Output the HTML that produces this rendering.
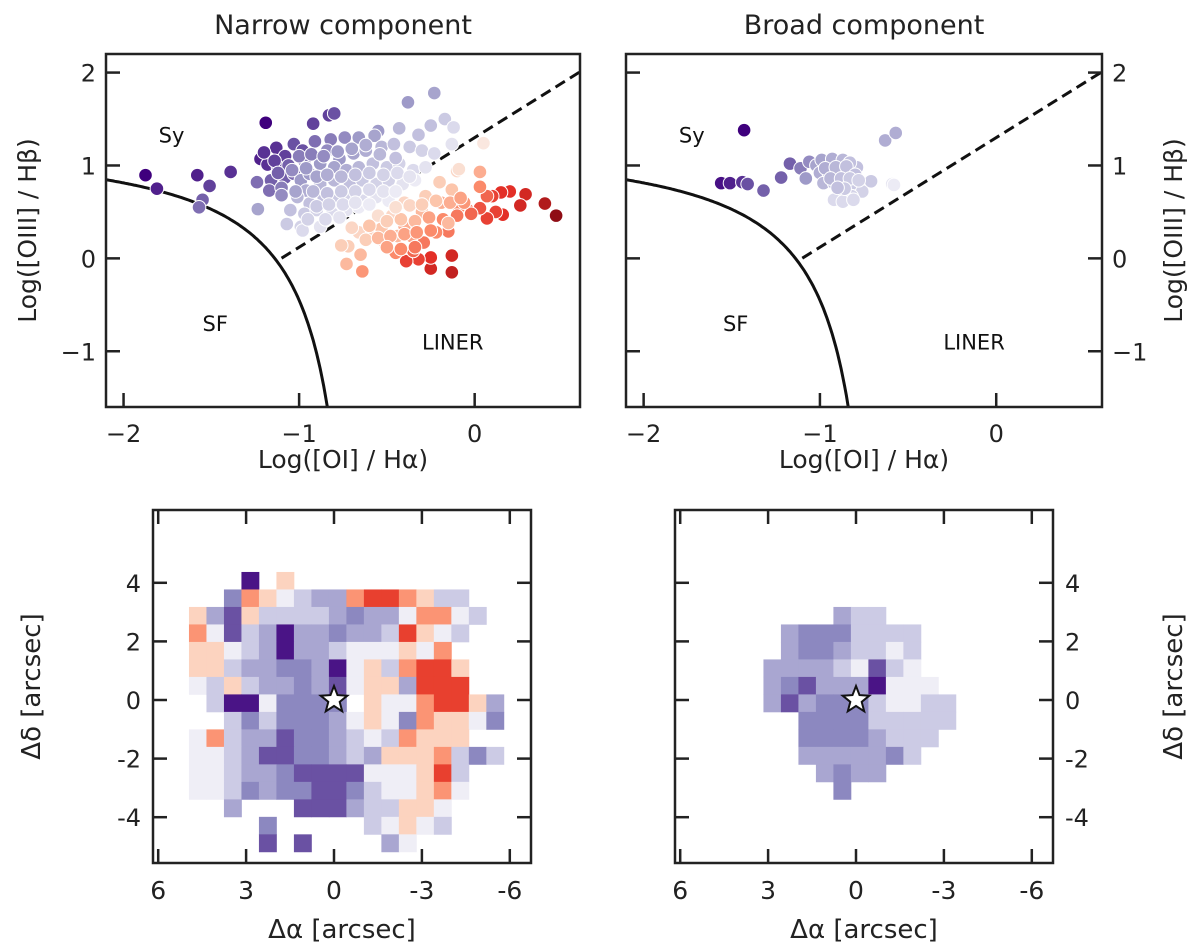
<!DOCTYPE html>
<html><head><meta charset="utf-8">
<style>
html,body{margin:0;padding:0;background:#fff;}
svg{display:block;font-family:"DejaVu Sans","Liberation Sans",sans-serif;}
</style></head>
<body>
<svg id="fig" width="1200" height="952" viewBox="0 0 1200 952"></svg>
<script>
// ---- Narrow component scatter data
const narrowX=[-1.875,-1.81,-1.58,-1.51,-1.55,-1.57,-1.39,-1.19,-1.235,-0.92,-0.83,-0.8,-0.38,-0.23,-0.17,-0.12,-0.43,-0.25,-0.32,-0.55,
-1.22,-1.18,-1.13,-1.08,-1.03,-0.98,-1.12,-1.08,-1.16,-1.24,-1.17,-1.1,-1.03,-0.97,-0.91,-0.82,-0.74,-0.66,-0.57,-0.84,-0.77,-0.69,-0.62,-0.53,-0.46,-0.37,-0.3,-0.23,-0.13,
-0.99,-0.94,-0.88,-0.8,-0.73,-0.66,-0.58,-0.5,-0.43,-0.35,-0.28,-0.96,-0.88,-0.8,-0.71,-0.64,-0.56,-0.49,-0.41,-0.34,-1.01,-0.94,-0.86,-0.79,-0.71,-0.64,-0.56,-0.49,-1.05,-0.97,-0.9,-0.81,-0.73,-0.66,-1.07,-0.99,-0.88,-0.98,
-1.2,-1.14,-1.06,-1.0,-0.93,-0.86,-0.78,-0.7,-0.62,-0.54,-0.45,-1.12,-1.04,-0.96,-0.9,-0.84,-0.76,-0.68,-0.6,-0.52,-0.44,-0.37,-1.1,-1.02,-0.92,-0.84,-0.76,-0.68,-0.6,-0.52,-0.45,-0.9,-0.83,-0.75,-0.68,-0.6,-0.95,-0.85,-0.77,
0.464,0.40,0.29,0.26,0.2,0.15,0.1,0.16,0.12,0.07,0.03,0.07,0.03,0.03,-0.04,-0.09,-0.13,-0.13,-0.25,-0.25,-0.32,-0.39,-0.35,-0.29,-0.15,-0.22,-0.45,-0.51,-0.64,-0.65,-0.73,-0.72,-0.76,-0.6,-0.53,-0.66,-0.4,-0.3,-0.19,-0.13,-0.1,-0.2,-0.28,-0.4,-0.47,-0.44,-0.55,-0.36,-0.09,0.05,
-0.5,-0.42,-0.34,-0.26,-0.18,-0.1,-0.02,-0.45,-0.37,-0.3,-0.22,-0.14,-0.06,-0.62,-0.55,-0.48,-0.4,-0.33,-0.25,-0.7,-0.6,-0.5,-0.42,-0.34,-0.15,-0.08];
const narrowY=[0.895,0.75,0.895,0.78,0.63,0.55,0.93,1.46,0.53,1.45,1.54,1.56,1.68,1.78,1.5,1.41,1.4,1.43,1.33,1.37,
1.07,1.01,1.19,1.10,1.23,1.16,0.98,0.87,0.84,0.82,0.73,0.76,0.91,1.05,1.26,1.28,1.3,1.3,1.32,1.16,1.07,1.13,1.16,1.2,1.23,1.2,1.16,1.13,1.23,
0.84,0.91,1.02,0.98,0.95,0.98,1.02,0.98,1.02,0.95,0.98,0.73,0.80,0.84,0.80,0.84,0.80,0.84,0.80,0.84,0.66,0.59,0.66,0.62,0.66,0.62,0.66,0.62,0.52,0.48,0.52,0.48,0.52,0.55,0.37,0.34,0.34,0.30,
1.14,1.05,1.0,1.1,1.12,1.1,1.15,1.18,1.22,1.12,1.08,0.92,0.95,0.97,0.88,0.9,0.88,0.9,0.92,0.9,0.92,0.88,0.68,0.72,0.72,0.7,0.72,0.72,0.74,0.72,0.72,0.56,0.58,0.58,0.6,0.58,0.42,0.42,0.44,
0.46,0.59,0.69,0.57,0.72,0.71,0.67,0.47,0.5,0.43,0.54,0.67,0.77,0.93,0.52,0.55,0.03,-0.15,-0.11,0.01,-0.01,-0.03,0.08,0.17,0.29,0.28,0.06,0.17,-0.14,0.04,-0.06,0.13,0.14,0.24,0.32,0.28,0.35,0.5,0.6,0.74,0.94,0.82,0.67,0.6,0.46,0.24,0.46,0.24,0.96,1.24,
0.4,0.42,0.4,0.44,0.42,0.46,0.48,0.55,0.57,0.58,0.62,0.6,0.6,0.2,0.22,0.24,0.26,0.28,0.3,0.33,0.35,0.12,0.1,0.12,0.38,0.65];
const narrowC=[-1,-0.9,-0.9,-0.8,-0.7,-0.65,-0.85,-1,-0.45,-0.8,-0.8,-0.75,-0.5,-0.45,-0.25,-0.15,-0.35,-0.3,-0.3,-0.5,
-0.9,-0.85,-0.85,-0.8,-0.75,-0.75,-0.8,-0.7,-0.7,-0.65,-0.65,-0.6,-0.65,-0.6,-0.65,-0.6,-0.55,-0.5,-0.45,-0.55,-0.5,-0.45,-0.4,-0.35,-0.3,-0.25,-0.2,-0.15,-0.1,
-0.5,-0.5,-0.5,-0.45,-0.4,-0.35,-0.3,-0.25,-0.2,-0.15,-0.1,-0.4,-0.35,-0.35,-0.3,-0.25,-0.2,-0.2,-0.1,-0.05,-0.35,-0.3,-0.3,-0.25,-0.2,-0.15,-0.1,-0.05,-0.3,-0.25,-0.2,-0.15,-0.1,-0.05,-0.25,-0.2,-0.1,-0.15,
-0.85,-0.8,-0.7,-0.6,-0.6,-0.55,-0.5,-0.45,-0.4,-0.35,-0.3,-0.7,-0.55,-0.5,-0.45,-0.4,-0.35,-0.3,-0.25,-0.2,-0.15,-0.1,-0.55,-0.45,-0.35,-0.3,-0.25,-0.2,-0.15,-0.1,-0.05,-0.25,-0.2,-0.15,-0.1,-0.05,-0.2,-0.15,-0.1,
1,0.9,0.8,0.8,0.75,0.75,0.7,0.75,0.7,0.7,0.65,0.6,0.5,0.35,0.55,0.5,0.8,0.85,0.8,0.75,0.7,0.7,0.6,0.55,0.55,0.5,0.5,0.45,0.45,0.3,0.3,0.2,0.2,0.2,0.25,0.15,0.35,0.3,0.35,0.25,0.15,0.2,0.2,0.15,0.15,0.3,0.1,0.4,0.1,0.05,
0.2,0.25,0.3,0.4,0.5,0.55,0.6,0.1,0.15,0.2,0.25,0.35,0.45,0.2,0.3,0.35,0.4,0.45,0.5,0.15,0.25,0.4,0.5,0.55,0.3,0.4];
// ---- Broad component scatter data
const broadX=[-1.43,-1.56,-1.51,-1.44,-1.41,-1.32,-1.22,-1.17,-1.11,-1.06,-1.08,-1.02,-0.96,-0.9,-0.85,-1.0,-0.95,-0.9,-0.84,-0.79,-0.98,-0.92,-0.86,-0.81,-0.76,-0.89,-0.82,-0.92,-0.87,-0.81,-0.71,-0.63,-0.57,-0.59,-0.58,
-0.99,-0.93,-0.87,-0.83,-0.97,-0.91,-0.85,-0.8,-0.94,-0.88,-0.83,-0.78,-0.86,-0.9];
const broadY=[1.38,0.81,0.81,0.82,0.80,0.73,0.87,1.02,0.97,1.04,0.86,1.0,1.04,1.02,0.97,0.92,0.92,0.92,0.95,0.98,0.81,0.81,0.78,0.81,0.72,0.70,0.67,0.63,0.61,0.63,0.83,1.27,1.35,0.80,0.79,
1.06,1.07,1.06,1.03,0.97,0.98,0.99,0.9,0.86,0.86,0.86,0.84,0.75,0.76];
const broadC=[-1,-0.95,-0.9,-0.85,-0.75,-0.7,-0.7,-0.7,-0.6,-0.55,-0.5,-0.45,-0.45,-0.4,-0.4,-0.4,-0.35,-0.35,-0.35,-0.3,-0.35,-0.3,-0.3,-0.25,-0.2,-0.25,-0.2,-0.15,-0.15,-0.15,-0.25,-0.4,-0.4,-0.1,-0.05,
-0.45,-0.4,-0.35,-0.3,-0.4,-0.35,-0.3,-0.3,-0.35,-0.3,-0.25,-0.2,-0.25,-0.3];
// ---- Axis ticks
const bptXTicks=[-2,-1,0];
const bptYTicks=[2,1,0,-1];
const mapXTicks=[6,3,0,-3,-6];
const mapYTicks=[4,2,0,-2,-4];
// ---- Maps (cell codes: . empty, D..l purples, w white, o..R reds)
const narrowMap=[
"...D.o............",
"..pOowlmmOrrOoll..",
"omPollllmpmmwOOwl.",
"OwPlmDmmpmmlrowl..",
"oowlmDmmlwwwowO...",
"oolmmppmDwolOrro..",
"wlolmmpmPwoomrrr..",
".lDDwpppp.owwOrrom",
"..lplpppmwowpOoowp",
"wOlmmPppmlwlOooo..",
"wwlmPPppmlmoooOlpl",
"wwlmmpPPPPwwworl..",
"wwlpmppPPplwwoOw..",
"..m...PPPmlloow...",
"....p.....lwowl...",
"....P.P....mw....."];
const broadMap=[
"..............",
"..............",
".......mll....",
"....mpppllll..",
"....mppmllwl..",
"...mmmmlwPlw..",
"...mpPmmmDwww.",
"...mPmppplwwll",
".....pppplllll",
".....ppppmlll.",
".....mmmmmpl..",
"......mpmm....",
".......p......"];

const NS='http://www.w3.org/2000/svg';
const svg=document.getElementById('fig');
function el(tag,attrs,parent){const e=document.createElementNS(NS,tag);for(const k in attrs)e.setAttribute(k,attrs[k]);(parent||svg).appendChild(e);return e;}
function txt(s,attrs,parent){const e=el('text',attrs,parent);e.textContent=s;return e;}

function lerp(a,b,t){return a+(b-a)*t;}
function hex(h){return [parseInt(h.slice(1,3),16),parseInt(h.slice(3,5),16),parseInt(h.slice(5,7),16)];}
const negStops=['#f4f3f9','#cbcae3','#9e9ac8','#6a51a3','#3f007d'];
const posStops=['#f9f0ec','#fcc5ab','#fb8a6a','#e32f27','#8f0d15'];
function cmap(c){const st=c<0?negStops:posStops;let v=Math.min(1,Math.abs(c))*4;let i=Math.min(3,Math.floor(v));let t=v-i;const a=hex(st[i]),b=hex(st[i+1]);return 'rgb('+a.map((x,k)=>Math.round(lerp(x,b[k],t))).join(',')+')';}
const codeColor={D:'#4a1486',P:'#6a51a3',p:'#8c88c0',m:'#a9a6d1',l:'#cccbe5',w:'#efeef6',o:'#fcd3bf',O:'#fb9474',r:'#e8402f',R:'#a50f15'};

// ---------- BPT panels ----------
function bpt(opt){
  const L=opt.L,R=opt.R,T=54,B=407;
  const sx=v=>L+(v+2.1)/2.7*(R-L);
  const sy=v=>B-(v+1.6)/3.8*(B-T);
  const g=el('g',{});  
  let d='';for(let x=-2.1;x<=-0.84;x+=0.01){const y=0.73/(x+0.59)+1.33;if(y<-1.6)break;d+=(d?'L':'M')+sx(x).toFixed(1)+','+sy(y).toFixed(1);}
  d+='L'+sx(-0.839).toFixed(1)+','+B;
  const cv=el('path',{d:d,fill:'none',stroke:'#111','stroke-width':3},g);
  
  const x0=-1.1,x1=0.6;
  const dl=el('line',{x1:sx(x0),y1:sy(1.18*x0+1.30),x2:sx(x1),y2:sy(1.18*x1+1.30),stroke:'#111','stroke-width':3,'stroke-dasharray':'11,6'},g);
  
  for(let i=0;i<opt.X.length;i++){
    const c=el('circle',{cx:sx(opt.X[i]),cy:sy(opt.Y[i]),r:6.8,fill:cmap(opt.C[i]),stroke:'#fff','stroke-width':1},g);
    
  }
  [['Sy',-1.8,1.25],['SF',-1.55,-0.78],['LINER',-0.3,-0.98]].forEach(a=>{const t=txt(a[0],{x:sx(a[1]),y:sy(a[2]),'font-size':21,fill:'#111'},g);});
  const f=el('rect',{x:L,y:T,width:R-L,height:B-T,fill:'none',stroke:'#222','stroke-width':2.5},g);
  
  bptXTicks.forEach(v=>{const X=sx(v);el('line',{x1:X,y1:B,x2:X,y2:B-14,stroke:'#222','stroke-width':2.5},g);
    const t=txt(v<0?'\u2212'+(-v):''+v,{x:X,y:B+35,'font-size':24,'text-anchor':'middle',fill:'#222'},g);});
  bptYTicks.forEach(v=>{const Y=sy(v);
    el('line',{x1:L,y1:Y,x2:L+14,y2:Y,stroke:'#222','stroke-width':2.5},g);
    if(opt.right) el('line',{x1:R,y1:Y,x2:R-14,y2:Y,stroke:'#222','stroke-width':2.5},g);
    const lx=opt.right?R+10:L-10;
    const t=txt(v<0?'\u2212'+(-v):''+v,{x:lx,y:Y+9,'font-size':24,'text-anchor':opt.right?'start':'end',fill:'#222'},g);});
  const ti=txt(opt.title,{x:(L+R)/2,y:34,'font-size':27,'text-anchor':'middle',fill:'#222'},g);
  const xl=txt('Log([OI] / H\u03b1)',{x:(L+R)/2,y:468,'font-size':25,'text-anchor':'middle',fill:'#222'},g);
  const yx=opt.right?1182:36;
  const yl=txt('Log([OIII] / H\u03b2)',{x:yx,y:(T+B)/2,'font-size':25,'text-anchor':'middle',fill:'#222',transform:'rotate(-90 '+yx+' '+(T+B)/2+')'},g);
}
bpt({L:106,R:580,X:narrowX,Y:narrowY,C:narrowC,title:'Narrow component',name:'narrow-bpt-panel',right:false});
bpt({L:626,R:1102,X:broadX,Y:broadY,C:broadC,title:'Broad component',name:'broad-bpt-panel',right:true});

// ---------- Maps ----------
function mapPanel(opt){
  const L=opt.L,R=L+378,T=510,B=863,PX=29.3;
  const cx=opt.L+181, cy=700;
  const sx=a=>cx-a*PX, sy=d=>cy-d*PX;
  const g=el('g',{});
  const a0=4.95,d0=4.37,cs=0.597;
  opt.M.forEach((row,r)=>{for(let c=0;c<row.length;c++){const k=row[c];if(k==='.')continue;
    const rc=el('rect',{x:sx(a0-c*cs),y:sy(d0-r*cs),width:cs*PX+0.4,height:cs*PX+0.4,fill:codeColor[k]},g);
    }});
  let p='';for(let i=0;i<10;i++){const rr=i%2?6:14;const an=-Math.PI/2+i*Math.PI/5;p+=(cx+rr*Math.cos(an)).toFixed(1)+','+(cy+rr*Math.sin(an)).toFixed(1)+' ';}
  const st=el('polygon',{points:p,fill:'#fff',stroke:'#111','stroke-width':2},g);
  const f=el('rect',{x:L,y:T,width:R-L,height:B-T,fill:'none',stroke:'#222','stroke-width':2.5},g);
  mapXTicks.forEach(v=>{const X=sx(v);el('line',{x1:X,y1:B,x2:X,y2:B-14,stroke:'#222','stroke-width':2.5},g);el('line',{x1:X,y1:T,x2:X,y2:T+14,stroke:'#222','stroke-width':2.5},g);
    const t=txt(''+v,{x:X,y:B+36,'font-size':25,'text-anchor':'middle',fill:'#222'},g);});
  mapYTicks.forEach(v=>{const Y=sy(v);el('line',{x1:L,y1:Y,x2:L+14,y2:Y,stroke:'#222','stroke-width':2.5},g);el('line',{x1:R,y1:Y,x2:R-14,y2:Y,stroke:'#222','stroke-width':2.5},g);
    const lx=opt.right?R+12:L-12;
    const t=txt(''+v,{x:lx,y:Y+9,'font-size':24,'text-anchor':opt.right?'start':'end',fill:'#222'},g);});
  const xl=txt('\u0394\u03b1 [arcsec]',{x:(L+R)/2,y:938,'font-size':26,'text-anchor':'middle',fill:'#222'},g);
  const yx=opt.right?1182:40;
  const yl=txt('\u0394\u03b4 [arcsec]',{x:yx,y:(T+B)/2,'font-size':26,'text-anchor':'middle',fill:'#222',transform:'rotate(-90 '+yx+' '+(T+B)/2+')'},g);
}
mapPanel({L:153,M:narrowMap,name:'narrow-map-panel',right:false});
mapPanel({L:675,M:broadMap,name:'broad-map-panel',right:true});
</script>
</body></html>
